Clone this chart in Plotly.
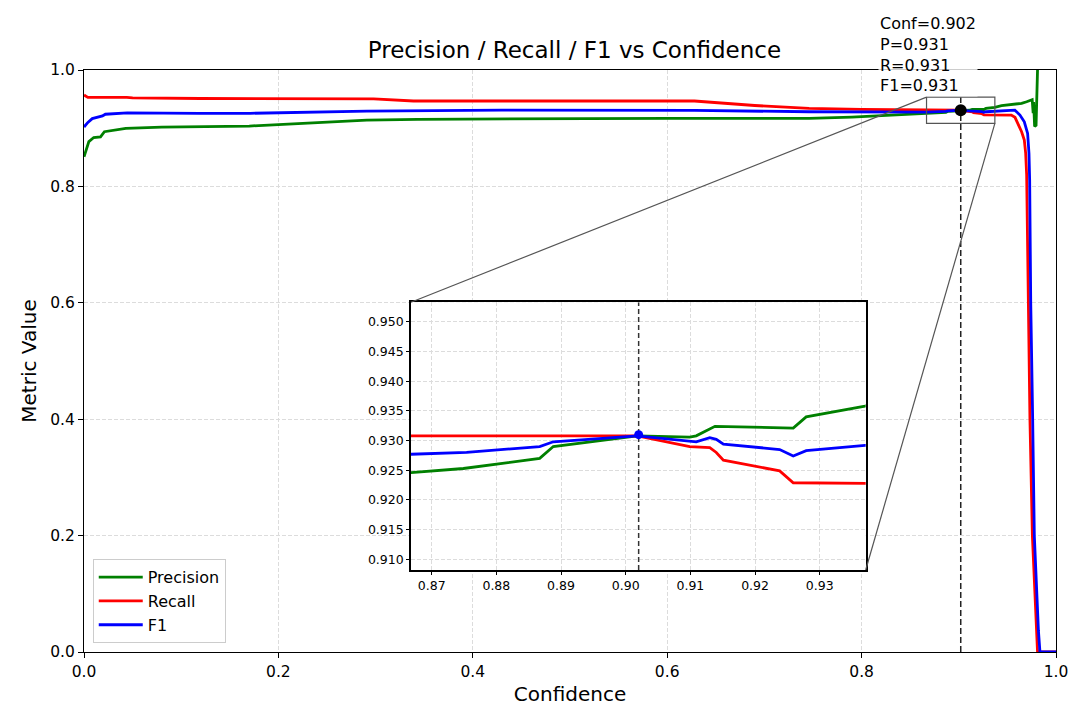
import plotly.graph_objects as go

# confidence / metric curves
prec_conf = [0.0, 0.003, 0.005, 0.010, 0.017, 0.021, 0.043, 0.08, 0.13, 0.17, 0.205, 0.257,
             0.291, 0.343, 0.43, 0.5, 0.6, 0.7, 0.746, 0.79, 0.83, 0.8668, 0.8749, 0.8867,
             0.8888, 0.8919, 0.9018, 0.9099, 0.9109, 0.9138, 0.9259, 0.9279, 0.937, 0.944,
             0.954, 0.9646, 0.9698, 0.975, 0.9755, 0.9765, 0.977, 0.978, 0.9795, 0.981]
prec_val = [0.851, 0.868, 0.877, 0.884, 0.885, 0.894, 0.8996, 0.902, 0.9036, 0.9037, 0.9066, 0.911,
            0.914, 0.9152, 0.916, 0.917, 0.917, 0.917, 0.917, 0.919, 0.922, 0.9246, 0.9253, 0.927,
            0.929, 0.9294, 0.9308, 0.9306, 0.9308, 0.9324, 0.9321, 0.934, 0.9358, 0.9386,
            0.940, 0.9427, 0.9455, 0.948, 0.949, 0.926, 0.945, 0.903, 0.905, 1.0]

rec_conf = [0.0, 0.004, 0.044, 0.05, 0.12, 0.2, 0.298, 0.339, 0.43, 0.628, 0.69, 0.746, 0.8,
            0.8668, 0.9018, 0.9099, 0.913, 0.914, 0.9151, 0.9238, 0.9259, 0.937, 0.954, 0.9578,
            0.9612, 0.9646, 0.9674, 0.9688, 0.9698, 0.9715, 0.9732, 0.9757, 0.980, 0.981, 1.0]
rec_val = [0.957, 0.953, 0.953, 0.952, 0.951, 0.9503, 0.9503, 0.9467, 0.9467, 0.9467, 0.939, 0.934, 0.9325,
           0.9308, 0.9308, 0.929, 0.9288, 0.928, 0.9267, 0.9249, 0.9229, 0.9228, 0.9226, 0.9187,
           0.9054, 0.894, 0.8797, 0.857, 0.82, 0.60, 0.40, 0.20, 0.037, 0.0, 0.0]

f1_conf = [0.0, 0.004, 0.0085, 0.019, 0.022, 0.0445, 0.119, 0.171, 0.291, 0.43, 0.628, 0.746,
           0.8668, 0.8754, 0.8867, 0.8888, 0.9018, 0.9099, 0.9109, 0.913, 0.914, 0.9151, 0.9238,
           0.9259, 0.9279, 0.937, 0.9577, 0.9629, 0.9674, 0.9708, 0.9722, 0.9729, 0.974, 0.976,
           0.9777, 0.9819, 0.9835, 1.0]
f1_val = [0.902, 0.910, 0.9165, 0.921, 0.924, 0.9265, 0.9256, 0.9256, 0.9295, 0.9312, 0.9305, 0.9283,
          0.9277, 0.928, 0.929, 0.9298, 0.9308, 0.9298, 0.9298, 0.9305, 0.9302, 0.9294, 0.9285,
          0.9274, 0.9283, 0.9292, 0.931, 0.9226, 0.911, 0.891, 0.857, 0.811, 0.60, 0.40,
          0.20, 0.037, 0.0, 0.0]

best_conf, best_p, best_r, best_f1 = 0.902, 0.931, 0.931, 0.931

# zoom window
zx = [0.8668, 0.9371]
zy = [0.9082, 0.9533]
inset_dx = [0.3364, 0.8042]
inset_dy = [0.1409, 0.6009]

FONT = "DejaVu Sans"
series = [("Precision", prec_conf, prec_val, "#008000"),
          ("Recall", rec_conf, rec_val, "#ff0000"),
          ("F1", f1_conf, f1_val, "#0000ff")]

fig = go.Figure()
for name, xs, ys, col in series:
    fig.add_trace(go.Scatter(x=xs, y=ys, mode="lines", name=name,
                             line=dict(color=col, width=2.8)))
# best threshold marker on main axes
fig.add_trace(go.Scatter(x=[best_conf, best_conf], y=[0, zy[1]], mode="lines", showlegend=False,
                         line=dict(color="#222", width=1.5, dash="6px,3px"), hoverinfo="skip"))
fig.add_trace(go.Scatter(x=[best_conf], y=[best_f1], mode="markers", showlegend=False,
                         marker=dict(color="black", size=12)))

# inset
for name, xs, ys, col in series:
    fig.add_trace(go.Scatter(x=xs, y=ys, mode="lines", name=name, showlegend=False,
                             xaxis="x2", yaxis="y2", line=dict(color=col, width=2.8)))
fig.add_trace(go.Scatter(x=[best_conf, best_conf], y=zy, mode="lines", showlegend=False,
                         xaxis="x2", yaxis="y2",
                         line=dict(color="#333", width=1.5, dash="5px,3px"), hoverinfo="skip"))
fig.add_trace(go.Scatter(x=[best_conf], y=[best_f1], mode="markers", showlegend=False,
                         xaxis="x2", yaxis="y2", marker=dict(color="#0000ff", size=9)))

axis_common = dict(showline=True, linecolor="black", linewidth=1, mirror=True,
                   ticks="outside", ticklen=5, tickcolor="black", showgrid=True,
                   gridcolor="#dcdcdc", griddash="4px,2px", gridwidth=1, zeroline=False,
                   tickfont=dict(family=FONT, size=15.5, color="black"))
inset_axis = {**axis_common, "linewidth": 1.5, "ticklen": 3,
              "tickfont": dict(family=FONT, size=12.5, color="black")}

# page adds an 8px body margin, so the figure is 8px smaller than the window
fig.update_layout(
    width=1080, height=717,
    margin=dict(l=76, r=32, t=62, b=73),
    paper_bgcolor="white", plot_bgcolor="white",
    font=dict(family=FONT, color="black"),
    title=dict(text="Precision / Recall / F1 vs Confidence", x=0.5245, xanchor="center",
               y=0.9414, yanchor="middle", font=dict(family=FONT, size=23, color="black")),
    xaxis=dict(range=[0, 1], domain=[0, 1], dtick=0.2, tickformat=".1f",
               title=dict(text="Confidence", font=dict(family=FONT, size=20), standoff=7),
               **axis_common),
    yaxis=dict(range=[0, 1], domain=[0, 1], dtick=0.2, tickformat=".1f",
               title=dict(text="Metric Value", font=dict(family=FONT, size=20), standoff=8),
               **axis_common),
    xaxis2=dict(range=zx, domain=inset_dx, anchor="y2", dtick=0.01, tick0=0.87, tickformat=".2f",
                **inset_axis),
    yaxis2=dict(range=zy, domain=inset_dy, anchor="x2", dtick=0.005, tick0=0.91, tickformat=".3f",
                **inset_axis),
    legend=dict(x=0.009, y=0.015, xanchor="left", yanchor="bottom", itemwidth=44,
                bgcolor="rgba(255,255,255,0.85)", bordercolor="#cccccc", borderwidth=1,
                font=dict(family=FONT, size=16, color="black"), tracegroupgap=0),
    showlegend=True,
)

# zoom rectangle and connectors (main axes span paper 0..1 with range 0..1)
fig.add_shape(type="rect", xref="x", yref="y", x0=zx[0], x1=zx[1], y0=zy[0], y1=zy[1],
              line=dict(color="#555", width=1.2), layer="above")
fig.add_shape(type="line", xref="paper", yref="paper", x0=zx[0], y0=zy[1],
              x1=inset_dx[0], y1=inset_dy[1], line=dict(color="#555", width=1.2), layer="above")
fig.add_shape(type="line", xref="paper", yref="paper", x0=zx[1], y0=zy[0],
              x1=inset_dx[1], y1=inset_dy[0], line=dict(color="#555", width=1.2), layer="above")

fig.add_annotation(
    text=f"Conf={best_conf:.3f}<br>P={best_p:.3f}<br>R={best_r:.3f}<br>F1={best_f1:.3f}",
    xref="paper", yref="paper", x=0.817, y=1.1, xanchor="left", yanchor="top",
    align="left", showarrow=False, bgcolor="rgba(255,255,255,0.8)",
    font=dict(family=FONT, size=16, color="black"))

fig.write_html("out.html")
